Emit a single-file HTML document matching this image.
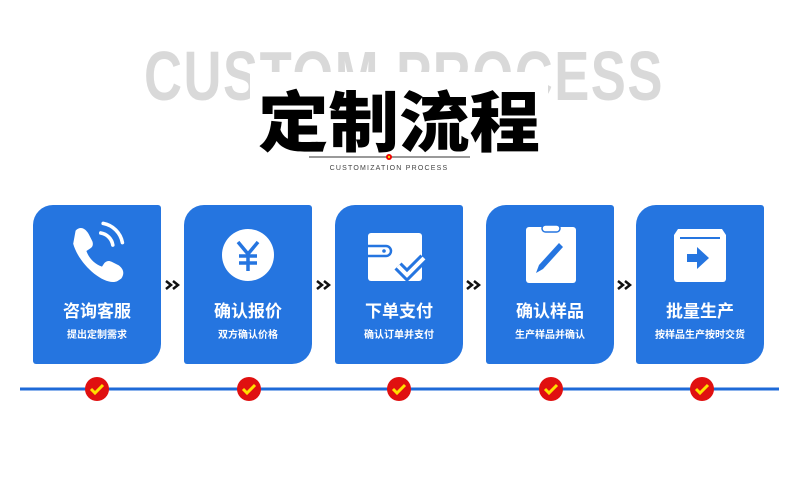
<!DOCTYPE html>
<html><head><meta charset="utf-8"><style>
body{margin:0;width:800px;height:480px;background:#fff;overflow:hidden}
svg{display:block}
</style></head><body>
<svg width="800" height="480" viewBox="0 0 800 480" xmlns="http://www.w3.org/2000/svg" font-family="Liberation Sans, Noto Sans CJK SC, sans-serif">
<text x="404" y="100" text-anchor="middle" font-size="70" font-weight="900" fill="#d9d9d9" letter-spacing="2" textLength="520" lengthAdjust="spacingAndGlyphs">CUSTOM PROCESS</text>
<rect x="250" y="72" width="298" height="40" fill="#fff"/>
<text x="399" y="146" text-anchor="middle" font-size="66" font-weight="900" fill="#000" font-family="Noto Sans CJK SC, sans-serif" textLength="282" lengthAdjust="spacingAndGlyphs">定制流程</text>
<line x1="309" y1="157" x2="470" y2="157" stroke="#333" stroke-width="1"/>
<circle cx="389" cy="157" r="3" fill="#e00"/><circle cx="389" cy="157" r="1.2" fill="#fc0"/>
<text x="389" y="170" text-anchor="middle" font-size="7" fill="#444" letter-spacing="1.2">CUSTOMIZATION PROCESS</text>
<g id="cards" font-family="Noto Sans CJK SC, sans-serif">
<g transform="translate(33,205)">
<path d="M20 0H125a3 3 0 0 1 3 3V139a20 20 0 0 1-20 20H3a3 3 0 0 1-3-3V20A20 20 0 0 1 20 0Z" fill="#2575e0"/>
<g transform="translate(39,22) scale(1.2) translate(-37,-27)">
<path d="M40 30c4-4 8-2 11 3l3 6c1 3 0 5-2 6l-3 2c2 6 7 11 13 13l2-3c2-2 4-2 6-1l6 3c4 3 5 7 2 11l-3 2c-10 5-32-13-37-31z" fill="#fff"/>
<path d="M61 32a12 12 0 0 1 10 10M63 24a20 20 0 0 1 16 16" stroke="#fff" stroke-width="3" fill="none" stroke-linecap="round"/>
</g>
<text x="64" y="112" text-anchor="middle" font-size="17" font-weight="bold" fill="#fff">咨询客服</text>
<text x="64" y="133" text-anchor="middle" font-size="10" font-weight="bold" fill="#fff">提出定制需求</text></g>
<g transform="translate(184,205)">
<path d="M20 0H125a3 3 0 0 1 3 3V139a20 20 0 0 1-20 20H3a3 3 0 0 1-3-3V20A20 20 0 0 1 20 0Z" fill="#2575e0"/>
<circle cx="64" cy="50" r="26" fill="#fff"/>
<path d="M54 37l10 12 10-12M64 49v17M55 51h18M55 58h18" stroke="#2575e0" stroke-width="3.5" fill="none"/>
<text x="64" y="112" text-anchor="middle" font-size="17" font-weight="bold" fill="#fff">确认报价</text>
<text x="64" y="133" text-anchor="middle" font-size="10" font-weight="bold" fill="#fff">双方确认价格</text></g>
<g transform="translate(335,205)">
<path d="M20 0H125a3 3 0 0 1 3 3V139a20 20 0 0 1-20 20H3a3 3 0 0 1-3-3V20A20 20 0 0 1 20 0Z" fill="#2575e0"/>
<rect x="33" y="28" width="54" height="48" rx="3" fill="#fff"/>
<path d="M33 41h18a5 5 0 0 1 0 10H33" stroke="#2575e0" stroke-width="2.5" fill="none"/>
<circle cx="49" cy="46" r="1.8" fill="#2575e0"/>
<path d="M63 61l9 9 17-17" stroke="#2575e0" stroke-width="10" fill="none"/>
<path d="M63 61l9 9 17-17" stroke="#fff" stroke-width="4" fill="none"/>
<text x="64" y="112" text-anchor="middle" font-size="17" font-weight="bold" fill="#fff">下单支付</text>
<text x="64" y="133" text-anchor="middle" font-size="10" font-weight="bold" fill="#fff">确认订单并支付</text></g>
<g transform="translate(486,205)">
<path d="M20 0H125a3 3 0 0 1 3 3V139a20 20 0 0 1-20 20H3a3 3 0 0 1-3-3V20A20 20 0 0 1 20 0Z" fill="#2575e0"/>
<rect x="40" y="22" width="50" height="56" rx="3" fill="#fff"/>
<rect x="56" y="20" width="18" height="7" rx="3.5" fill="#fff" stroke="#2575e0" stroke-width="1.5"/>
<path d="M50 68l3-8 20-22 4 4-20 22z" fill="#2575e0"/>
<text x="64" y="112" text-anchor="middle" font-size="17" font-weight="bold" fill="#fff">确认样品</text>
<text x="64" y="133" text-anchor="middle" font-size="10" font-weight="bold" fill="#fff">生产样品并确认</text></g>
<g transform="translate(636,205)">
<path d="M20 0H125a3 3 0 0 1 3 3V139a20 20 0 0 1-20 20H3a3 3 0 0 1-3-3V20A20 20 0 0 1 20 0Z" fill="#2575e0"/>
<path d="M42 24h44l4 6v44a3 3 0 0 1-3 3H41a3 3 0 0 1-3-3V30z" fill="#fff"/>
<line x1="44" y1="33" x2="84" y2="33" stroke="#2575e0" stroke-width="2"/>
<path d="M51 49h10v-7l12 11-12 11v-7h-10z" fill="#2575e0"/>
<text x="64" y="112" text-anchor="middle" font-size="17" font-weight="bold" fill="#fff">批量生产</text>
<text x="64" y="133" text-anchor="middle" font-size="10" font-weight="bold" fill="#fff">按样品生产按时交货</text></g>
</g>
<g fill="none" stroke="#111" stroke-width="2.5">
<path d="M166 281l5 4-5 4M173 281l5 4-5 4"/>
<path d="M317 281l5 4-5 4M324 281l5 4-5 4"/>
<path d="M467 281l5 4-5 4M474 281l5 4-5 4"/>
<path d="M618 281l5 4-5 4M625 281l5 4-5 4"/>
</g>
<line x1="20" y1="389" x2="779" y2="389" stroke="#1e6ad8" stroke-width="3"/>
<g id="chk">
<circle cx="97" cy="389" r="12" fill="#e01010"/><path d="M91 389l4 4 8-8" stroke="#ffe000" stroke-width="3" fill="none"/>
<circle cx="249" cy="389" r="12" fill="#e01010"/><path d="M243 389l4 4 8-8" stroke="#ffe000" stroke-width="3" fill="none"/>
<circle cx="399" cy="389" r="12" fill="#e01010"/><path d="M393 389l4 4 8-8" stroke="#ffe000" stroke-width="3" fill="none"/>
<circle cx="551" cy="389" r="12" fill="#e01010"/><path d="M545 389l4 4 8-8" stroke="#ffe000" stroke-width="3" fill="none"/>
<circle cx="702" cy="389" r="12" fill="#e01010"/><path d="M696 389l4 4 8-8" stroke="#ffe000" stroke-width="3" fill="none"/>
</g>
</svg>
</body></html>
